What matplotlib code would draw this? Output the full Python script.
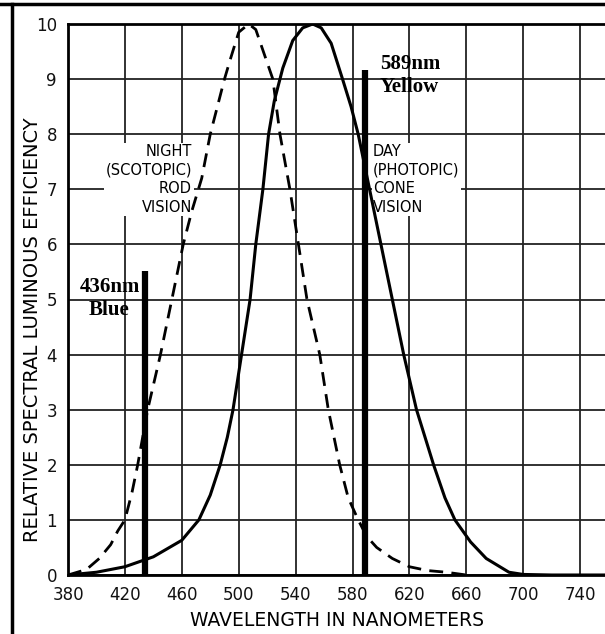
import numpy as np
import matplotlib.pyplot as plt
from matplotlib.lines import Line2D

# photopic (day, cone) curve
day_nm = [380, 400, 420, 440, 460, 472, 480, 487, 492, 496, 499, 502, 505, 508,
          512, 517, 521, 525, 531, 538, 545, 552, 558, 565, 573, 579, 584, 592,
          600, 608, 616, 625, 637, 645, 652, 663, 674, 690, 700, 720, 760]
day_eff = [0, 0.05, 0.15, 0.33, 0.63, 1.0, 1.45, 2.0, 2.5, 3.0, 3.5, 4.0, 4.5, 5.0,
           6.0, 7.0, 8.0, 8.6, 9.2, 9.7, 9.93, 10, 9.93, 9.65, 9.0, 8.5, 8.0, 7.0,
           6.0, 5.0, 4.0, 3.0, 2.0, 1.4, 1.0, 0.6, 0.3, 0.05, 0.01, 0, 0]

# scotopic (night, rod) curve
night_nm = [380, 393, 402, 410, 415, 420, 425, 429, 436, 445, 453, 461, 467, 474,
            480, 485, 490, 494, 500, 507, 512, 516, 520, 524, 529, 536, 542, 548,
            557, 563, 571, 577, 584, 590, 597, 608, 620, 633, 646, 660]
night_eff = [0, 0.1, 0.3, 0.55, 0.8, 1.0, 1.5, 2.0, 3.0, 4.0, 5.0, 6.0, 6.6, 7.2,
             8.0, 8.5, 9.0, 9.35, 9.85, 10, 9.9, 9.6, 9.3, 9.0, 8.0, 7.0, 6.0, 5.0,
             4.0, 3.0, 2.0, 1.4, 1.0, 0.7, 0.5, 0.3, 0.15, 0.08, 0.05, 0]

# marker bars
bar_nm = [434, 589]
bar_top = [5.52, 9.17]
bar_text = ['436nm\nBlue', '589nm\nYellow']

xticks = [380, 420, 460, 500, 540, 580, 620, 660, 700, 740]
yticks = list(range(0, 11))

fig = plt.figure(figsize=(6.05, 6.34), dpi=100)
W, H = 605, 634
ax = fig.add_axes([68 / W, 1 - 575 / H, 1 - 68 / W, (575 - 24) / H])

ax.plot(day_nm, day_eff, color='black', lw=2.2, zorder=3)
ax.plot(night_nm, night_eff, color='black', lw=2.0, ls=(0, (5, 3)), zorder=3)

ax.vlines(bar_nm, 0, bar_top, color='black', lw=4.5, zorder=4)

ax.set_xlim(380, 380 + (605 - 68) / 1.4225)
ax.set_ylim(0, 10)
ax.set_xticks(xticks)
ax.set_yticks(yticks)
ax.grid(True, color='#222222', lw=1.3)
ax.set_axisbelow(True)
ax.tick_params(length=0, labelsize=12, colors='#111111')
ax.tick_params(axis='x', pad=8)
ax.tick_params(axis='y', pad=8)
for s in ['left', 'bottom', 'top']:
    ax.spines[s].set_linewidth(2)
ax.spines['right'].set_visible(False)

ax.set_xlabel('WAVELENGTH IN NANOMETERS', fontsize=13.5)
ax.xaxis.set_label_coords((337 - 68) / 537, -(620 - 575) / 551)
ax.xaxis.label.set_va('center')
ax.set_ylabel('RELATIVE SPECTRAL LUMINOUS EFFICIENCY', fontsize=14)
ax.yaxis.set_label_coords((33 - 68) / 537, (575 - 330) / 551)
ax.yaxis.label.set_va('center')

box = dict(facecolor='white', edgecolor='none', pad=1)
ax.text(0.231, 0.782, 'NIGHT\n(SCOTOPIC)\nROD\nVISION', transform=ax.transAxes,
        ha='right', va='top', multialignment='right', fontsize=10.5,
        linespacing=1.3, bbox=box, zorder=2)
ax.text(0.568, 0.782, 'DAY\n(PHOTOPIC)\nCONE\nVISION', transform=ax.transAxes,
        ha='left', va='top', fontsize=10.5, linespacing=1.3, bbox=box, zorder=2)

ax.text(0.021, 0.541, bar_text[0], transform=ax.transAxes, ha='left', va='top',
        multialignment='center', fontsize=15, fontweight='bold',
        family='Liberation Serif', linespacing=1.2, zorder=5)
ax.text(0.581, 0.945, bar_text[1], transform=ax.transAxes, ha='left', va='top',
        multialignment='left', fontsize=15, fontweight='bold',
        family='Liberation Serif', linespacing=1.2, zorder=5)

# page frame
fig.add_artist(Line2D([0, 1], [1 - 4 / H, 1 - 4 / H], color='black', lw=2.5))
fig.add_artist(Line2D([12 / W, 12 / W], [0, 1 - 4 / H], color='black', lw=2.5))

fig.savefig('out.png', dpi=100)
